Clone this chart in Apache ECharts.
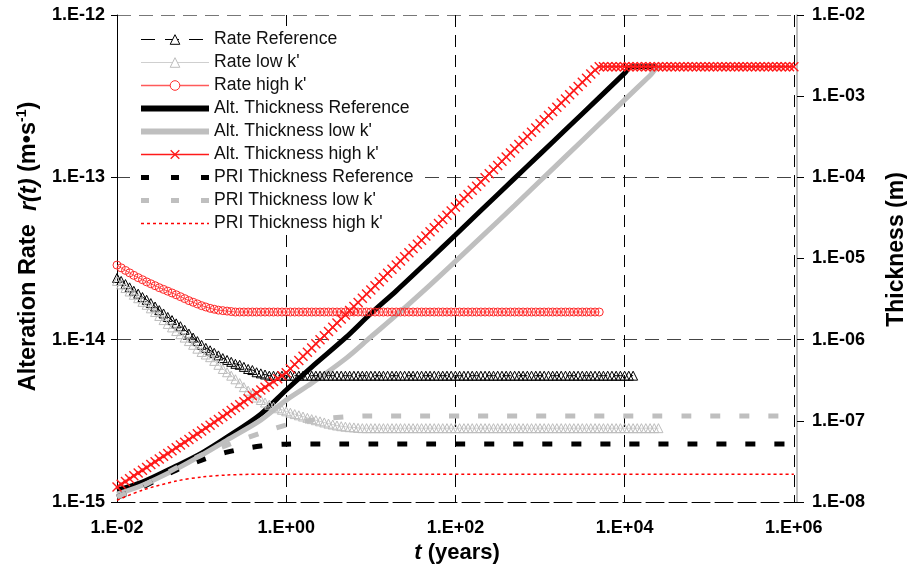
<!DOCTYPE html>
<html>
<head>
<meta charset="utf-8">
<script src="https://cdn.jsdelivr.net/npm/echarts@6/dist/echarts.min.js"></script>
<style>
html, body { margin: 0; padding: 0; background: #fff; overflow: hidden; }
#chart { width: 907px; height: 569px; }
</style>
</head>
<body>
<div id="chart"></div>
<script>
// time grid (years), 20 points per decade
var tGrid = [
  0.01,0.0112,0.0126,0.0141,0.0158,0.0178,0.02,0.0224,0.0251,0.0282,0.0316,0.0355,0.0398,0.0447,0.0501,0.0562,0.0631,0.0708,0.0794,0.0891,
  0.1,0.112,0.126,0.141,0.158,0.178,0.2,0.224,0.251,0.282,0.316,0.355,0.398,0.447,0.501,0.562,0.631,0.708,0.794,0.891,
  1,1.12,1.26,1.41,1.58,1.78,2,2.24,2.51,2.82,3.16,3.55,3.98,4.47,5.01,5.62,6.31,7.08,7.94,8.91,
  10,11.2,12.6,14.1,15.8,17.8,20,22.4,25.1,28.2,31.6,35.5,39.8,44.7,50.1,56.2,63.1,70.8,79.4,89.1,
  100,112,126,141,158,178,200,224,251,282,316,355,398,447,501,562,631,708,794,891,
  1000,1120,1260,1410,1580,1780,2000,2240,2510,2820,3160,3550,3980,4470,5010,5620,6310,7080,7940,8910,
  10000,11200,12600,14100,15800,17800,20000,22400,25100,28200,31600,35500,39800,44700,50100,56200,63100,70800,79400,89100,
  100000,112000,126000,141000,158000,178000,200000,224000,251000,282000,316000,355000,398000,447000,501000,562000,631000,708000,794000,891000,
  1000000
];

// alteration rate r(t), m/s (left axis), on tGrid
var rateRef = [
  2.40e-14,2.30e-14,2.20e-14,2.10e-14,2.00e-14,1.92e-14,1.83e-14,1.76e-14,1.68e-14,1.60e-14,
  1.52e-14,1.45e-14,1.38e-14,1.32e-14,1.26e-14,1.21e-14,1.15e-14,1.09e-14,1.03e-14,9.8e-15,
  9.3e-15,8.9e-15,8.6e-15,8.3e-15,8.0e-15,7.7e-15,7.5e-15,7.3e-15,7.1e-15,7.0e-15,
  6.8e-15,6.6e-15,6.5e-15,6.3e-15,6.2e-15,6.1e-15,6.0e-15,6.0e-15,6.0e-15,6.0e-15,
  6.0e-15,6.0e-15,6.0e-15,6.0e-15,6.0e-15,6.0e-15,6.0e-15,6.0e-15,6.0e-15,6.0e-15,
  6.0e-15,6.0e-15,6.0e-15,6.0e-15,6.0e-15,6.0e-15,6.0e-15,6.0e-15,6.0e-15,6.0e-15,
  6.0e-15,6.0e-15,6.0e-15,6.0e-15,6.0e-15,6.0e-15,6.0e-15,6.0e-15,6.0e-15,6.0e-15,
  6.0e-15,6.0e-15,6.0e-15,6.0e-15,6.0e-15,6.0e-15,6.0e-15,6.0e-15,6.0e-15,6.0e-15,
  6.0e-15,6.0e-15,6.0e-15,6.0e-15,6.0e-15,6.0e-15,6.0e-15,6.0e-15,6.0e-15,6.0e-15,
  6.0e-15,6.0e-15,6.0e-15,6.0e-15,6.0e-15,6.0e-15,6.0e-15,6.0e-15,6.0e-15,6.0e-15,
  6.0e-15,6.0e-15,6.0e-15,6.0e-15,6.0e-15,6.0e-15,6.0e-15,6.0e-15,6.0e-15,6.0e-15,
  6.0e-15,6.0e-15,6.0e-15,6.0e-15,6.0e-15,6.0e-15,6.0e-15,6.0e-15,6.0e-15,6.0e-15,
  6.0e-15,6.0e-15,6.0e-15
];
var rateLow = [
  2.30e-14,2.19e-14,2.08e-14,1.98e-14,1.89e-14,1.80e-14,1.71e-14,1.64e-14,1.56e-14,1.48e-14,
  1.40e-14,1.32e-14,1.25e-14,1.19e-14,1.13e-14,1.08e-14,1.03e-14,9.8e-15,9.3e-15,8.8e-15,
  8.4e-15,8.1e-15,7.8e-15,7.4e-15,7.0e-15,6.6e-15,6.3e-15,6.0e-15,5.7e-15,5.4e-15,
  5.1e-15,4.85e-15,4.6e-15,4.4e-15,4.25e-15,4.1e-15,3.98e-15,3.87e-15,3.78e-15,3.70e-15,
  3.62e-15,3.55e-15,3.48e-15,3.42e-15,3.36e-15,3.30e-15,3.24e-15,3.19e-15,3.14e-15,3.09e-15,
  3.04e-15,3.00e-15,2.96e-15,2.93e-15,2.91e-15,2.89e-15,2.88e-15,2.86e-15,2.85e-15,2.85e-15,
  2.85e-15,2.85e-15,2.85e-15,2.85e-15,2.85e-15,2.85e-15,2.85e-15,2.85e-15,2.85e-15,2.85e-15,
  2.85e-15,2.85e-15,2.85e-15,2.85e-15,2.85e-15,2.85e-15,2.85e-15,2.85e-15,2.85e-15,2.85e-15,
  2.85e-15,2.85e-15,2.85e-15,2.85e-15,2.85e-15,2.85e-15,2.85e-15,2.85e-15,2.85e-15,2.85e-15,
  2.85e-15,2.85e-15,2.85e-15,2.85e-15,2.85e-15,2.85e-15,2.85e-15,2.85e-15,2.85e-15,2.85e-15,
  2.85e-15,2.85e-15,2.85e-15,2.85e-15,2.85e-15,2.85e-15,2.85e-15,2.85e-15,2.85e-15,2.85e-15,
  2.85e-15,2.85e-15,2.85e-15,2.85e-15,2.85e-15,2.85e-15,2.85e-15,2.85e-15,2.85e-15,2.85e-15,
  2.85e-15,2.85e-15,2.85e-15,2.85e-15,2.85e-15,2.85e-15,2.85e-15,2.85e-15,2.85e-15
];
var rateHigh = [
  2.88e-14,2.77e-14,2.67e-14,2.58e-14,2.49e-14,2.41e-14,2.34e-14,2.27e-14,2.21e-14,2.15e-14,
  2.09e-14,2.04e-14,1.99e-14,1.94e-14,1.89e-14,1.84e-14,1.79e-14,1.74e-14,1.70e-14,1.66e-14,
  1.62e-14,1.59e-14,1.56e-14,1.54e-14,1.52e-14,1.51e-14,1.50e-14,1.49e-14,1.48e-14,1.48e-14,
  1.48e-14,1.48e-14,1.48e-14,1.48e-14,1.48e-14,1.48e-14,1.48e-14,1.48e-14,1.48e-14,1.48e-14,
  1.48e-14,1.48e-14,1.48e-14,1.48e-14,1.48e-14,1.48e-14,1.48e-14,1.48e-14,1.48e-14,1.48e-14,
  1.48e-14,1.48e-14,1.48e-14,1.48e-14,1.48e-14,1.48e-14,1.48e-14,1.48e-14,1.48e-14,1.48e-14,
  1.48e-14,1.48e-14,1.48e-14,1.48e-14,1.48e-14,1.48e-14,1.48e-14,1.48e-14,1.48e-14,1.48e-14,
  1.48e-14,1.48e-14,1.48e-14,1.48e-14,1.48e-14,1.48e-14,1.48e-14,1.48e-14,1.48e-14,1.48e-14,
  1.48e-14,1.48e-14,1.48e-14,1.48e-14,1.48e-14,1.48e-14,1.48e-14,1.48e-14,1.48e-14,1.48e-14,
  1.48e-14,1.48e-14,1.48e-14,1.48e-14,1.48e-14,1.48e-14,1.48e-14,1.48e-14,1.48e-14,1.48e-14,
  1.48e-14,1.48e-14,1.48e-14,1.48e-14,1.48e-14,1.48e-14,1.48e-14,1.48e-14,1.48e-14,1.48e-14,
  1.48e-14,1.48e-14,1.48e-14,1.48e-14,1.48e-14
];

// altered thickness, m (right axis)
var altHigh = [
  1.53e-8,1.66e-8,1.79e-8,1.94e-8,2.10e-8,2.28e-8,2.46e-8,2.67e-8,2.89e-8,3.13e-8,
  3.38e-8,3.66e-8,3.97e-8,4.29e-8,4.65e-8,5.03e-8,5.45e-8,5.90e-8,6.39e-8,6.92e-8,
  7.49e-8,8.14e-8,8.84e-8,9.61e-8,1.04e-7,1.13e-7,1.23e-7,1.34e-7,1.46e-7,1.58e-7,
  1.72e-7,1.87e-7,2.03e-7,2.20e-7,2.39e-7,2.59e-7,2.81e-7,3.05e-7,3.31e-7,3.59e-7,
  3.90e-7,4.39e-7,4.93e-7,5.55e-7,6.24e-7,7.02e-7,7.90e-7,8.88e-7,9.99e-7,1.12e-6,
  1.26e-6,1.42e-6,1.60e-6,1.80e-6,2.02e-6,2.28e-6,2.56e-6,2.88e-6,3.24e-6,3.64e-6,
  4.10e-6,4.61e-6,5.18e-6,5.83e-6,6.56e-6,7.38e-6,8.30e-6,9.34e-6,1.05e-5,1.18e-5,
  1.33e-5,1.50e-5,1.68e-5,1.89e-5,2.13e-5,2.40e-5,2.70e-5,3.03e-5,3.41e-5,3.84e-5,
  4.32e-5,4.86e-5,5.47e-5,6.15e-5,6.92e-5,7.78e-5,8.76e-5,9.85e-5,1.11e-4,1.25e-4,
  1.40e-4,1.58e-4,1.78e-4,2.00e-4,2.25e-4,2.53e-4,2.85e-4,3.20e-4,3.60e-4,4.05e-4,
  4.56e-4,5.13e-4,5.77e-4,6.49e-4,7.30e-4,8.21e-4,9.24e-4,1.04e-3,1.17e-3,1.32e-3,
  1.48e-3,1.66e-3,1.87e-3,2.10e-3,2.30e-3,2.30e-3,2.30e-3,2.30e-3,2.30e-3,2.30e-3,
  2.30e-3,2.30e-3,2.30e-3,2.30e-3,2.30e-3,2.30e-3,2.30e-3,2.30e-3,2.30e-3,2.30e-3,
  2.30e-3,2.30e-3,2.30e-3,2.30e-3,2.30e-3,2.30e-3,2.30e-3,2.30e-3,2.30e-3,2.30e-3,
  2.30e-3,2.30e-3,2.30e-3,2.30e-3,2.30e-3,2.30e-3,2.30e-3,2.30e-3,2.30e-3,2.30e-3,
  2.30e-3,2.30e-3,2.30e-3,2.30e-3,2.30e-3,2.30e-3,2.30e-3,2.30e-3,2.30e-3,2.30e-3,
  2.30e-3
];
var tAltRef = [0.01,0.02,0.05,0.1,0.2,0.5,1,2,5,10,20,50,100,200,500,1000,2000,5000,10000,12000,23000];
var altRef  = [1.40e-8,1.76e-8,2.77e-8,4.0e-8,6.3e-8,1.21e-7,2.4e-7,4.6e-7,1.05e-6,2.1e-6,4.0e-6,9.8e-6,1.95e-5,3.9e-5,9.7e-5,1.93e-4,3.85e-4,9.6e-4,1.92e-3,2.3e-3,2.3e-3];
var tAltLow = [0.01,0.02,0.05,0.1,0.2,0.5,1,2,5,10,20,50,100,200,500,1000,2000,5000,10000,20000,25500,27000];
var altLow  = [1.25e-8,1.61e-8,2.54e-8,3.78e-8,5.8e-8,1.02e-7,1.8e-7,2.9e-7,5.8e-7,1.08e-6,2.0e-6,4.7e-6,9.2e-6,1.82e-5,4.5e-5,9.0e-5,1.8e-4,4.5e-4,9.0e-4,1.8e-3,2.3e-3,2.3e-3];

// PRI thickness, m (right axis)
var tPri    = [0.01,0.02,0.05,0.1,0.2,0.5,1,2,5,10,1000000];
var priRef  = [1.15e-8,1.53e-8,2.47e-8,3.28e-8,4.12e-8,4.89e-8,5.16e-8,5.2e-8,5.2e-8,5.2e-8,5.2e-8];
var priLow  = [1.15e-8,1.57e-8,2.62e-8,3.78e-8,5.02e-8,7.06e-8,8.87e-8,1.02e-7,1.12e-7,1.15e-7,1.15e-7];
var priHigh = [1.05e-8,1.40e-8,1.81e-8,2.03e-8,2.15e-8,2.2e-8,2.2e-8,2.2e-8,2.2e-8,2.2e-8,2.2e-8];

function pairs(ts, vs) {
  return vs.map(function (v, i) { return [ts[i], v]; });
}

function sciLabel(v, evenOnly) {
  var lg = Math.log10(v);
  var e = Math.round(lg);
  if (Math.abs(lg - e) > 1e-6) return '';
  if (evenOnly && e % 2 !== 0) return '';
  var a = Math.abs(e);
  return '1.E' + (e < 0 ? '-' : '+') + (a < 10 ? '0' : '') + a;
}

var FONT = 'Liberation Sans, Arial, sans-serif';
var X_PATH = 'path://M0,1L1,0L5,4L9,0L10,1L6,5L10,9L9,10L5,6L1,10L0,9L4,5Z';
var CLEAR = 'rgba(0,0,0,0)';

var tickLabel = { fontFamily: FONT, fontWeight: 'bold', fontSize: 18, color: '#000' };

// legend entries carry their own icon styles (legend does not copy the thick widths)
var legendData = [
  { name: 'Rate Reference',
    itemStyle: { color: '#fff', borderColor: '#000', borderWidth: 1 },
    lineStyle: { color: '#000', width: 1, type: [14, 10] } },
  { name: "Rate low k'",
    itemStyle: { color: '#fff', borderColor: '#bdbdbd', borderWidth: 1 },
    lineStyle: { color: '#cfcfcf', width: 1.2, type: 'solid' } },
  { name: "Rate high k'",
    itemStyle: { color: '#fff', borderColor: '#ff2a2a', borderWidth: 1 },
    lineStyle: { color: '#ff5a5a', width: 1.5, type: 'solid' } },
  { name: 'Alt. Thickness Reference',
    itemStyle: { color: CLEAR, borderWidth: 0 },
    lineStyle: { color: '#000', width: 6, type: 'solid' } },
  { name: "Alt. Thickness low k'",
    itemStyle: { color: CLEAR, borderWidth: 0 },
    lineStyle: { color: '#bfbfbf', width: 6, type: 'solid' } },
  { name: "Alt. Thickness high k'",
    itemStyle: { color: '#ff1a1a' },
    lineStyle: { color: '#ff1a1a', width: 1.5, type: 'solid' } },
  { name: 'PRI Thickness Reference',
    itemStyle: { color: CLEAR, borderWidth: 0 },
    lineStyle: { color: '#000', width: 5, type: [8, 22] } },
  { name: "PRI Thickness low k'",
    itemStyle: { color: CLEAR, borderWidth: 0 },
    lineStyle: { color: '#bfbfbf', width: 5, type: [8, 22] } },
  { name: "PRI Thickness high k'",
    itemStyle: { color: CLEAR, borderWidth: 0 },
    lineStyle: { color: '#ff0000', width: 1.5, type: [3, 3] } }
];

var chart = echarts.init(document.getElementById('chart'), null, { renderer: 'canvas' });

chart.setOption({
  animation: false,
  backgroundColor: '#fff',
  grid: { left: 117, right: 110, top: 15, bottom: 67, outerBoundsMode: 'none', containLabel: false },
  legend: {
    orient: 'vertical',
    left: 130,
    top: 26,
    padding: [2, 4, 0, 8],
    backgroundColor: '#fff',
    itemWidth: 68,
    itemHeight: 12,
    itemGap: 0,
    selectedMode: false,
    textStyle: { fontFamily: FONT, fontSize: 17.6, color: '#111', lineHeight: 23 },
    data: legendData
  },
  xAxis: {
    type: 'log',
    logBase: 10,
    min: 0.01,
    max: 1.09e6,
    name: '{i|t}{b| (years)}',
    nameLocation: 'middle',
    nameGap: 37,
    nameTextStyle: {
      rich: {
        i: { fontFamily: FONT, fontWeight: 'bold', fontStyle: 'italic', fontSize: 22, color: '#000' },
        b: { fontFamily: FONT, fontWeight: 'bold', fontSize: 22, color: '#000' }
      }
    },
    axisLine: { show: true, onZero: false, lineStyle: { color: '#000', width: 1, type: [18, 5] } },
    axisTick: { show: false },
    minorTick: { show: false },
    splitLine: { show: true, lineStyle: { color: ['#000', CLEAR], width: 1, type: [12, 8] } },
    axisLabel: Object.assign({ margin: 17, formatter: function (v) { return sciLabel(v, true); } }, tickLabel)
  },
  yAxis: [{
    type: 'log',
    logBase: 10,
    min: 1e-15,
    max: 1e-12,
    position: 'left',
    name: '{b|Alteration Rate  }{i|r(t)}{b| (m•s}{s|-1}{b|)}',
    nameLocation: 'middle',
    nameRotate: 90,
    nameGap: 76,
    nameTextStyle: {
      padding: [0, 0, 0, 24],
      rich: {
        b: { fontFamily: FONT, fontWeight: 'bold', fontSize: 23.5, color: '#000', lineHeight: 26, verticalAlign: 'bottom' },
        i: { fontFamily: FONT, fontWeight: 'bold', fontStyle: 'italic', fontSize: 23.5, color: '#000', lineHeight: 26, verticalAlign: 'bottom' },
        s: { fontFamily: FONT, fontWeight: 'bold', fontSize: 14, color: '#000', lineHeight: 26, verticalAlign: 'top' }
      }
    },
    axisLine: { show: true, lineStyle: { color: '#000', width: 1 } },
    axisTick: { show: true, length: 6, lineStyle: { color: '#000' } },
    splitLine: { show: true, lineStyle: { color: [CLEAR, '#444', '#444', '#777'], width: 1, type: [14, 8] } },
    axisLabel: Object.assign({ margin: 12, formatter: function (v) { return sciLabel(v, false); } }, tickLabel)
  }, {
    type: 'log',
    logBase: 10,
    min: 1e-8,
    max: 1e-2,
    position: 'right',
    name: 'Thickness (m)',
    nameLocation: 'middle',
    nameRotate: 90,
    nameGap: 88,
    nameTextStyle: { fontFamily: FONT, fontWeight: 'bold', fontSize: 23, color: '#000', padding: [0, 0, 0, 18] },
    axisLine: { show: true, lineStyle: { color: '#aaa', width: 1.5 } },
    axisTick: { show: true, length: 7, lineStyle: { color: '#000' } },
    splitLine: { show: false },
    axisLabel: Object.assign({ margin: 15, formatter: function (v) { return sciLabel(v, false); } }, tickLabel)
  }],
  series: [
    {
      name: 'Rate Reference', type: 'line', yAxisIndex: 0,
      data: pairs(tGrid, rateRef),
      symbol: 'triangle', symbolSize: 9, showAllSymbol: true,
      itemStyle: { color: CLEAR, borderColor: '#000', borderWidth: 1 },
      lineStyle: { color: '#000', width: 1, type: [9, 7] },
      emphasis: { disabled: true }
    },
    {
      name: "Rate low k'", type: 'line', yAxisIndex: 0,
      data: pairs(tGrid, rateLow),
      symbol: 'triangle', symbolSize: 9, showAllSymbol: true,
      itemStyle: { color: CLEAR, borderColor: '#bdbdbd', borderWidth: 1 },
      lineStyle: { color: '#cfcfcf', width: 1 },
      emphasis: { disabled: true }
    },
    {
      name: "Rate high k'", type: 'line', yAxisIndex: 0,
      data: pairs(tGrid, rateHigh),
      symbol: 'circle', symbolSize: 8, showAllSymbol: true,
      itemStyle: { color: CLEAR, borderColor: '#ff2a2a', borderWidth: 1 },
      lineStyle: { color: '#ff5a5a', width: 1 },
      emphasis: { disabled: true }
    },
    {
      name: 'Alt. Thickness Reference', type: 'line', yAxisIndex: 1,
      data: pairs(tAltRef, altRef), smooth: 0.3,
      symbol: 'none', itemStyle: { color: CLEAR },
      lineStyle: { color: '#000', width: 5 },
      emphasis: { disabled: true }
    },
    {
      name: "Alt. Thickness low k'", type: 'line', yAxisIndex: 1,
      data: pairs(tAltLow, altLow), smooth: 0.3,
      symbol: 'none', itemStyle: { color: CLEAR },
      lineStyle: { color: '#bfbfbf', width: 5 },
      emphasis: { disabled: true }
    },
    {
      name: "Alt. Thickness high k'", type: 'line', yAxisIndex: 1,
      data: pairs(tGrid, altHigh),
      symbol: X_PATH, symbolSize: 10, showAllSymbol: true,
      itemStyle: { color: '#ff1a1a' },
      lineStyle: { color: '#ff1a1a', width: 1.5 },
      emphasis: { disabled: true }
    },
    {
      name: 'PRI Thickness Reference', type: 'line', yAxisIndex: 1,
      data: pairs(tPri, priRef), smooth: 0.3,
      symbol: 'none', itemStyle: { color: CLEAR },
      lineStyle: { color: '#000', width: 5, type: [10, 19] },
      emphasis: { disabled: true }
    },
    {
      name: "PRI Thickness low k'", type: 'line', yAxisIndex: 1,
      data: pairs(tPri, priLow), smooth: 0.3,
      symbol: 'none', itemStyle: { color: CLEAR },
      lineStyle: { color: '#bfbfbf', width: 5, type: [10, 19] },
      emphasis: { disabled: true }
    },
    {
      name: "PRI Thickness high k'", type: 'line', yAxisIndex: 1,
      data: pairs(tPri, priHigh), smooth: 0.3,
      symbol: 'none', itemStyle: { color: CLEAR },
      lineStyle: { color: '#ff0000', width: 1.5, type: [3, 3] },
      emphasis: { disabled: true }
    }
  ]
});
</script>
</body>
</html>
